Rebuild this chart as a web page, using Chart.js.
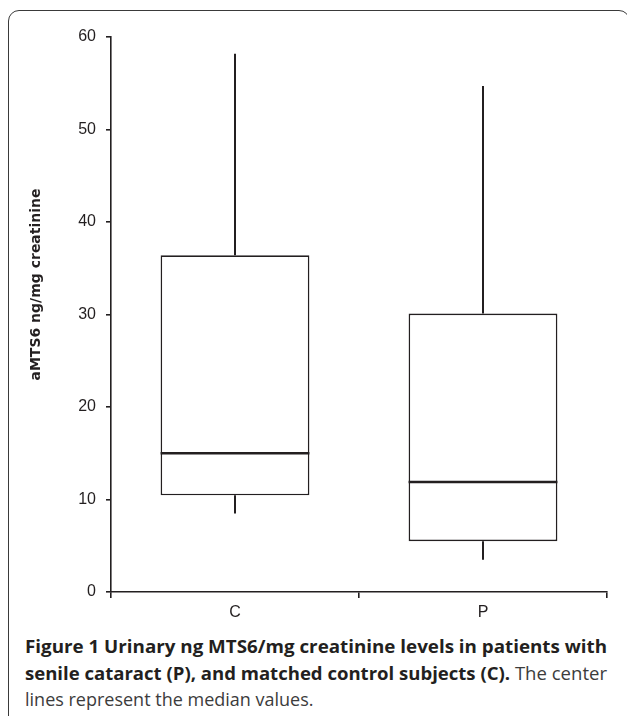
<!DOCTYPE html>
<html>
<head>
<meta charset="utf-8">
<script src="https://cdn.jsdelivr.net/npm/chart.js@4.4.1/dist/chart.umd.min.js"></script>
<style>
  html, body { margin: 0; padding: 0; background: #fff; }
  body { width: 627px; height: 716px; position: relative; overflow: hidden; }
  #frame { position: absolute; left: 8px; top: 10px; width: 622px; height: 760px;
           border: 1.6px solid #3a3a3a; border-radius: 11px; box-sizing: border-box; }
  #wrap { position: absolute; left: 0; top: 0; width: 627px; height: 630px; }
  #caption { position: absolute; left: 25px; top: 633px; width: 582px;
             font-family: "Open Sans", "Noto Sans", sans-serif; font-size: 18px;
             line-height: 26.5px; color: #231f20; }
  #caption .ln { display: block; white-space: nowrap; height: 26.5px; }
  #caption .in { display: inline-block; transform-origin: 0 0; }
  #caption b { font-weight: 700; }
  #caption .r { color: #3c3c3c; }
</style>
</head>
<body>
<div id="frame"></div>
<div id="wrap"><canvas id="c"></canvas></div>
<div id="caption">
  <span class="ln"><span class="in fit"><b>Figure 1 Urinary ng MTS6/mg creatinine levels in patients with</b></span></span>
  <span class="ln"><span class="in fit"><b>senile cataract (P), and matched control subjects (C).</b> <span class="r">The center</span></span></span>
  <span class="ln"><span class="in"><span class="r">lines represent the median values.</span></span></span>
</div>
<script>
const categories = ["C", "P"];
const minValues = [8.5, 3.5];
const q1Values = [10.45, 5.5];
const medianValues = [15.0, 11.9];
const q3Values = [36.4, 30.1];
const maxValues = [58.2, 54.7];
const yTicks = [0, 10, 20, 30, 40, 50, 60];
const yTitle = "aMTS6 ng/mg creatinine";

const ink = "#231f20";

// fit justified caption lines to the caption width
document.querySelectorAll("#caption .fit").forEach(el => {
  const w = el.getBoundingClientRect().width;
  if (w > 0) el.style.transform = "scaleX(" + (582 / w) + ")";
});

const boxPlugin = {
  id: "boxWhiskers",
  afterDatasetsDraw(chart) {
    const ctx = chart.ctx;
    const y = chart.scales.y;
    const meta = chart.getDatasetMeta(0);
    ctx.save();
    ctx.strokeStyle = ink;
    meta.data.forEach((bar, i) => {
      const x = bar.x;
      const hw = bar.width / 2;
      ctx.lineWidth = 2;
      ctx.beginPath();
      ctx.moveTo(x, y.getPixelForValue(q3Values[i]));
      ctx.lineTo(x, y.getPixelForValue(maxValues[i]));
      ctx.moveTo(x, y.getPixelForValue(q1Values[i]));
      ctx.lineTo(x, y.getPixelForValue(minValues[i]));
      ctx.stroke();
      ctx.lineWidth = 2.6;
      ctx.beginPath();
      const my = y.getPixelForValue(medianValues[i]);
      ctx.moveTo(x - hw, my);
      ctx.lineTo(x + hw, my);
      ctx.stroke();
    });
    ctx.restore();
  },
  afterDraw(chart) {
    const ctx = chart.ctx;
    const a = chart.chartArea;
    ctx.save();
    ctx.fillStyle = ink;
    ctx.font = "bold 14px 'DejaVu Sans'";
    ctx.textAlign = "center";
    ctx.textBaseline = "middle";
    ctx.translate(36, (a.top + a.bottom) / 2 - 30);
    ctx.rotate(-Math.PI / 2);
    ctx.fillText(yTitle, 0, 0);
    ctx.restore();
  }
};

new Chart(document.getElementById("c"), {
  type: "bar",
  data: {
    labels: categories,
    datasets: [{
      data: q1Values.map((v, i) => [v, q3Values[i]]),
      backgroundColor: "#ffffff",
      borderColor: ink,
      borderWidth: 1.6,
      borderSkipped: false,
      barPercentage: 0.6,
      categoryPercentage: 1.0
    }]
  },
  options: {
    responsive: true,
    maintainAspectRatio: false,
    animation: false,
    devicePixelRatio: 1,
    layout: { padding: { left: 24, top: 37, right: 20, bottom: 0 } },
    plugins: { legend: { display: false }, tooltip: { enabled: false } },
    scales: {
      y: {
        min: 0, max: 60,
        afterFit(s) { s.width = 87; },
        afterBuildTicks(s) { s.ticks = yTicks.map(v => ({ value: v })); },
        ticks: { color: ink, font: { family: "'Liberation Sans', Arial", size: 16 }, padding: 10 },
        grid: { display: true, drawOnChartArea: false, color: ink, lineWidth: 1.6, tickLength: 5 },
        border: { display: true, color: ink, width: 1.6 },
        title: { display: false }
      },
      x: {
        afterFit(s) { s.height = 38; },
        ticks: { color: ink, font: { family: "'Liberation Sans', Arial", size: 16 }, padding: 5 },
        grid: { display: true, offset: true, drawOnChartArea: false, color: ink, lineWidth: 1.6, tickLength: 6 },
        border: { display: true, color: ink, width: 1.6 }
      }
    }
  },
  plugins: [boxPlugin]
});
</script>
</body>
</html>
